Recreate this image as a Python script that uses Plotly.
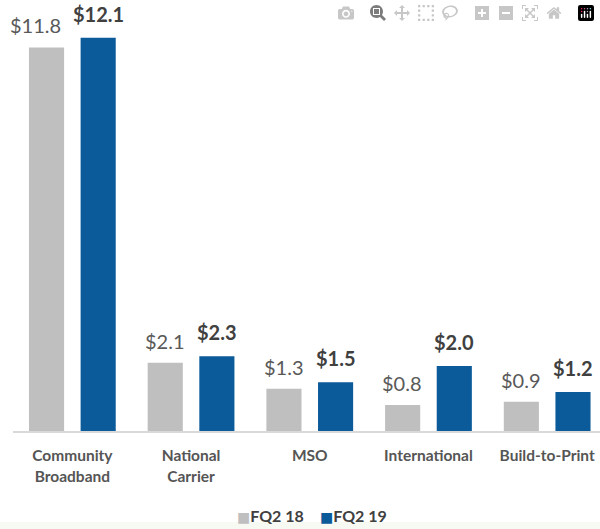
import plotly.graph_objects as go

categories = ["Community<br>Broadband", "National<br>Carrier", "MSO", "International", "Build-to-Print"]
fq2_18 = [11.8, 2.1, 1.3, 0.8, 0.9]
fq2_19 = [12.1, 2.3, 1.5, 2.0, 1.2]
series_names = ["FQ2 18", "FQ2 19"]
colors = ["#BFBFBF", "#0B5A9A"]

font = "Lato, Carlito, 'Open Sans', sans-serif"

fig = go.Figure()
fig.add_trace(go.Bar(name=series_names[0], x=categories, y=fq2_18, offsetgroup="a",
                     marker=dict(color=colors[0], line=dict(width=0))))
fig.add_trace(go.Bar(name=series_names[1], x=categories, y=fq2_19, offsetgroup="b",
                     marker=dict(color=colors[1], line=dict(width=0))))

# value labels above the bars (first grey label nudged left so it clears the blue one)
labels = []
for i, c in enumerate(categories):
    labels.append(dict(x=c, y=fq2_18[i], text="$%.1f" % fq2_18[i],
                       xshift=-37 if i == 0 else -26, yshift=8,
                       font=dict(family=font, size=20, color="#595959")))
    labels.append(dict(x=c, y=fq2_19[i], text="<b>$%.1f</b>" % fq2_19[i],
                       xshift=26, yshift=10,
                       font=dict(family=font, size=20, color="#404040")))
for a in labels:
    a.update(showarrow=False, yanchor="bottom")

# legend drawn as text so the swatch sits tight against its label
for name, col, lx in zip(series_names, colors, [0.379, 0.519]):
    labels.append(dict(
        xref="paper", yref="paper", x=lx, y=-0.197, xanchor="left", yanchor="middle",
        showarrow=False,
        text="<span style='color:%s;font-family:DejaVu Sans;font-size:14px'>■</span><b>%s</b>" % (col, name),
        font=dict(family=font, size=16, color="#404040"),
    ))

fig.update_layout(
    width=600, height=529,
    margin=dict(l=13, r=0, t=0, b=98, autoexpand=False),
    paper_bgcolor="white", plot_bgcolor="white",
    barmode="group", bargap=0.13, bargroupgap=0.32,
    font=dict(family=font, color="#404040"),
    annotations=labels,
    showlegend=False,
    xaxis=dict(
        range=[-0.5, 4.445], showgrid=False, showline=True, automargin=False,
        linecolor="#D9D9D9", linewidth=1.5,
        ticks="outside", ticklen=10, tickcolor="rgba(0,0,0,0)",
        tickfont=dict(family=font, size=15.5, color="#555555", weight="bold"),
    ),
    yaxis=dict(range=[0, 13.26], visible=False, showgrid=False),
)
fig.add_shape(type="rect", xref="paper", yref="paper", x0=-0.03, x1=1.0,
              y0=-0.211, y1=-0.23, fillcolor="#F6FAF3", line=dict(width=0), layer="below")

# drop the default body margin so the figure sits flush in the window (no scrollbars)
fig.write_html("out.html",
               post_script="document.body.style.margin='0';document.body.style.overflow='hidden';")
